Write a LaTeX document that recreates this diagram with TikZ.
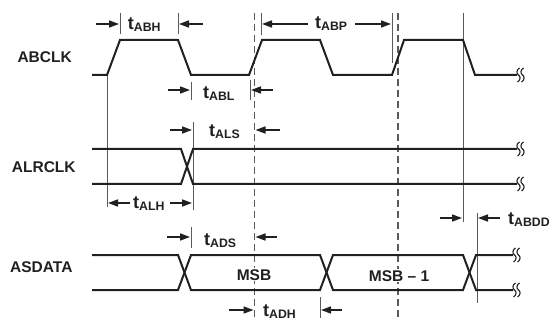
\documentclass[tikz,border=0pt]{standalone}
\usepackage{fontspec}
\setmainfont{Liberation Sans}
\usetikzlibrary{arrows.meta}
\definecolor{ink}{HTML}{231F20}
\definecolor{guide}{HTML}{5A5A5A}
\newcommand{\tlab}[1]{{\fontsize{18}{18}\selectfont t}\raisebox{-2pt}{\fontsize{12.3}{12}\selectfont #1}}
\begin{document}
\begin{tikzpicture}[x=1pt,y=-1pt,
 wave/.style={line width=2pt, color=ink, line join=miter},
 guideline/.style={line width=0.9pt, color=guide},
 dashguide/.style={line width=1.1pt, color=guide, dash pattern=on 7pt off 4pt},
 dim/.style={line width=1.6pt, color=ink, -{Triangle[length=10pt,width=7pt]}},
 siglabel/.style={inner sep=0pt, font=\bfseries\fontsize{15.5}{18}\selectfont, text=ink},
 tlabel/.style={anchor=base west, inner sep=0pt, font=\bfseries, text=ink},
 brk/.style={line width=1.1pt, color=ink},
 brkpic/.pic={
   \draw[brk] (1.5,-7) .. controls (-2,-5) and (-1.5,-1) .. (0.5,0) .. controls (2.5,1) and (3,5) .. (-0.5,7);
   \draw[brk] (5.5,-7) .. controls (2,-5) and (2.5,-1) .. (4.5,0) .. controls (6.5,1) and (7,5) .. (3.5,7);
 }]
\useasboundingbox (0,0) rectangle (553,320);

% guide lines
\draw[guideline] (107,75) -- (107,207);
\draw[guideline] (120,13) -- (120,34);
\draw[guideline] (178,13) -- (178,34);
\draw[guideline] (191,82) -- (191,100);
\draw[guideline] (250,80) -- (250,100);
\draw[guideline] (261,13) -- (261,35);
\draw[guideline] (392,13) -- (392,63);
\draw[guideline] (193,122) -- (193,210);
\draw[guideline] (191,227) -- (191,248);
\draw[guideline] (463,13) -- (463,222);
\draw[guideline] (477,213) -- (477,303);
\draw[guideline] (320,297) -- (320,318);
\draw[dashguide] (254.5,13) -- (254.5,320);
\draw[dashguide] (398,13) -- (398,320);

% waveforms
\draw[wave] (92,75) -- (107,75) -- (120,40) -- (178,40) -- (191,75) -- (249,75) -- (262,40) -- (320,40) -- (333,75) -- (392,75) -- (404,40) -- (463,40) -- (475,75) -- (517,75);
\draw[wave] (92,149) -- (181,149) -- (193,184) -- (517,184);
\draw[wave] (92,184) -- (181,184) -- (193,149) -- (517,149);
\draw[wave] (92,255) -- (178,255) -- (191,290) -- (320,290) -- (333,255) -- (463,255) -- (476,290) -- (513,290);
\draw[wave] (92,290) -- (178,290) -- (191,255) -- (320,255) -- (333,290) -- (463,290) -- (476,255) -- (513,255);

% signal labels
\node[siglabel, anchor=base west] (lab1) at (17.3,63) {ABCLK};
\node[siglabel, anchor=base west] (lab2) at (11.7,173) {ALRCLK};
\node[siglabel, anchor=base west] (lab3) at (10,272.5) {ASDATA};
\node[siglabel, anchor=base, fill=white, inner sep=1pt] (msb) at (254,280) {MSB};
\node[siglabel, anchor=base, fill=white, inner sep=1pt] (msb1) at (399,281) {MSB -- 1};

% break marks
\pic at (518,75) {brkpic};
\pic at (518,149) {brkpic};
\pic at (518,184) {brkpic};
\pic at (514,255) {brkpic};
\pic at (514,290) {brkpic};

% dimension arrows
\draw[dim] (96,24) -- (119,24);
\draw[dim] (203,24) -- (179,24);
\draw[dim] (308,24) -- (262,24);
\draw[dim] (355,24) -- (391,24);
\draw[dim] (168,90) -- (190,90);
\draw[dim] (273,90) -- (251,90);
\draw[dim] (170,130) -- (192,130);
\draw[dim] (280,130) -- (255.5,130);
\draw[dim] (130,203) -- (108,203);
\draw[dim] (170,203) -- (192,203);
\draw[dim] (167,237) -- (190,237);
\draw[dim] (277,237) -- (255.5,237);
\draw[dim] (229,310) -- (253.5,310);
\draw[dim] (342,310) -- (321,310);
\draw[dim] (440,218) -- (462,218);
\draw[dim] (500,218) -- (478,218);

% timing labels
\node[tlabel] (tabh) at (127.7,30) {\tlab{ABH}};
\node[tlabel] (tabp) at (315,29) {\tlab{ABP}};
\node[tlabel] (tabl) at (203,99) {\tlab{ABL}};
\node[tlabel] (tals) at (209,137) {\tlab{ALS}};
\node[tlabel] (talh) at (133,208) {\tlab{ALH}};
\node[tlabel] (tads) at (204,245) {\tlab{ADS}};
\node[tlabel] (tadh) at (263,316.5) {\tlab{ADH}};
\node[tlabel] (tabdd) at (508,224) {\tlab{ABDD}};
\end{tikzpicture}
\end{document}
